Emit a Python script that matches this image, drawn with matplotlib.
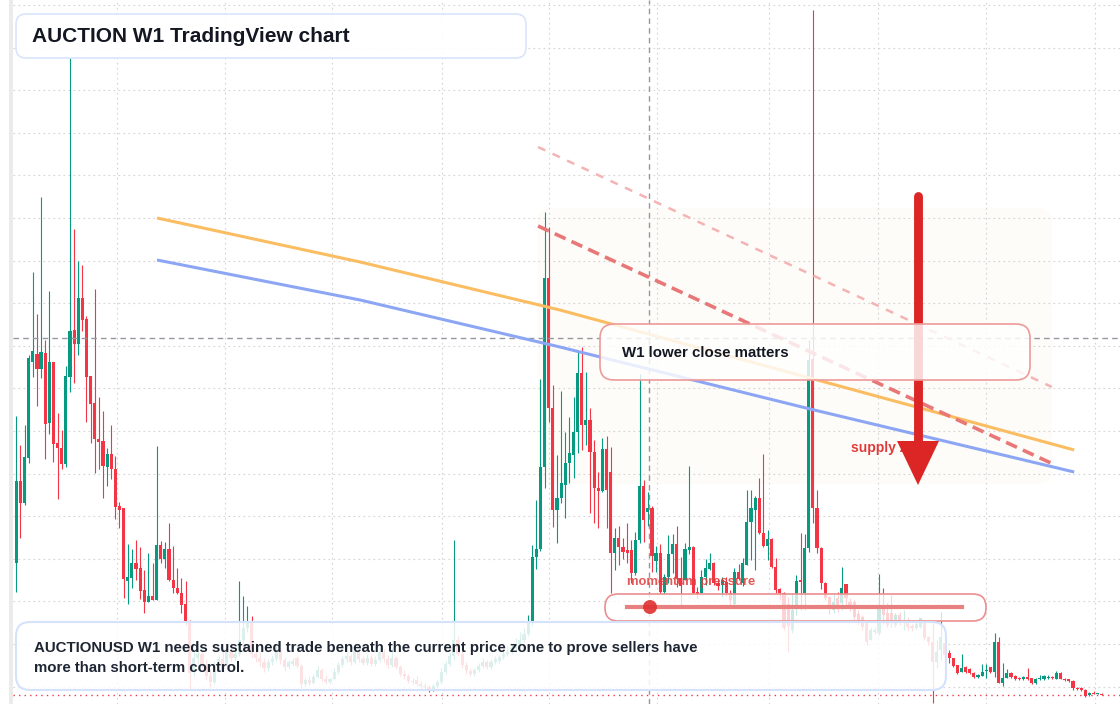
import numpy as np
import matplotlib
matplotlib.use('Agg')
import matplotlib.pyplot as plt
from matplotlib.patches import FancyBboxPatch, Polygon, Circle, Rectangle
from matplotlib.transforms import IdentityTransform
from matplotlib.lines import Line2D
from matplotlib.colors import to_rgba

W, H = 1120, 704

# weekly candles, AUCTIONUSD (price units)
opens = [
    14.1, 22.3, 20.1, 24.6, 34.2, 35.0, 33.5, 35.1, 28.1, 34.2,
    26.1, 25.6, 24.0, 32.7, 37.4, 36.0, 40.6, 38.5, 32.8, 30.1,
    26.5, 26.3, 23.7, 25.0, 23.5, 19.8, 19.6, 12.3, 12.6, 14.1,
    13.6, 11.4, 10.2, 10.8, 10.4, 15.9, 14.5, 15.5, 12.4, 11.6,
    11.1, 10.0, 8.2, 3.3, 4.6, 5.0, 4.0, 2.8, 2.2, 4.0,
    4.5, 4.0, 5.2, 4.6, 5.0, 6.4, 7.6, 8.3, 5.0, 4.6,
    4.2, 3.6, 4.2, 4.5, 5.4, 4.4, 3.7, 4.0, 4.6, 3.8,
    2.0, 2.4, 2.1, 2.7, 3.4, 2.5, 2.2, 2.5, 3.2, 3.9,
    4.5, 4.8, 4.2, 5.3, 4.5, 4.1, 4.6, 4.0, 4.4, 5.2,
    4.5, 3.9, 4.6, 3.7, 3.0, 2.8, 2.3, 2.4, 2.0, 1.8,
    1.7, 1.4, 1.8, 2.2, 3.2, 4.0, 4.8, 6.4, 5.0, 3.9,
    3.3, 3.0, 3.4, 3.8, 4.2, 3.7, 4.2, 4.3, 4.7, 5.0,
    5.2, 5.6, 6.0, 6.4, 7.0, 8.2, 14.7, 15.5, 23.7, 42.6,
    29.6, 19.4, 20.6, 21.9, 24.1, 24.9, 27.2, 33.1, 27.9, 28.4,
    25.2, 21.6, 21.3, 25.5, 23.2, 15.1, 16.6, 15.7, 15.4, 15.4,
    13.1, 16.4, 21.8, 19.2, 19.6, 14.3, 15.1, 11.2, 12.7, 15.0,
    16.0, 12.6, 12.4, 15.4, 15.7, 11.2, 11.1, 12.7, 13.5, 14.1,
    12.1, 11.9, 12.2, 11.1, 10.0, 13.2, 12.1, 13.9, 18.2, 19.4,
    20.6, 17.1, 15.8, 16.5, 13.7, 11.5, 11.1, 10.0, 7.4, 9.6,
    12.4, 11.1, 15.6, 34.5, 19.6, 15.6, 12.1, 10.7, 9.4, 10.6,
    10.1, 12.0, 10.2, 10.2, 9.0, 8.7, 8.1, 6.4, 7.2, 7.1,
    9.9, 9.1, 9.1, 7.9, 8.9, 8.1, 8.2, 7.8, 7.6, 7.7,
    8.1, 6.7, 6.2, 4.2, 5.4, 6.1, 5.1, 4.6, 3.9, 3.2,
    3.7, 3.5, 3.1, 2.7, 2.8, 3.3, 3.7, 3.2, 6.2, 2.1,
    2.6, 3.1, 2.8, 2.6, 2.5, 2.7, 2.6, 2.1, 2.5, 2.5,
    2.6, 2.7, 2.5, 3.1, 2.5, 2.5, 2.3, 1.6, 1.6, 1.4,
    0.9, 1.1, 1.05, 1.05,
]
highs = [
    28.8, 25.9, 27.9, 34.9, 43.2, 39.0, 50.7, 36.4, 41.3, 34.2,
    29.1, 27.4, 33.8, 64.6, 47.5, 44.3, 43.9, 38.8, 32.8, 41.5,
    30.7, 29.3, 25.6, 27.9, 24.8, 20.2, 19.6, 16.0, 15.5, 16.4,
    15.7, 13.4, 15.1, 14.1, 25.8, 16.3, 16.2, 18.1, 15.8, 13.6,
    12.6, 12.3, 8.4, 5.2, 5.6, 5.4, 4.5, 3.5, 4.3, 4.8,
    6.0, 5.4, 5.6, 5.4, 12.3, 10.8, 9.8, 8.8, 6.2, 5.2,
    4.6, 4.5, 4.9, 5.8, 5.6, 4.7, 4.4, 4.6, 4.8, 4.0,
    2.6, 2.8, 3.0, 3.8, 3.6, 2.9, 2.6, 3.6, 4.2, 4.8,
    5.2, 5.0, 5.6, 5.5, 4.8, 5.0, 4.9, 4.8, 5.7, 5.5,
    4.9, 5.6, 4.8, 3.9, 3.4, 3.0, 2.6, 2.8, 2.3, 2.1,
    1.9, 2.0, 2.4, 3.6, 4.3, 5.2, 16.4, 6.8, 5.3, 4.2,
    3.6, 3.6, 4.1, 4.6, 4.4, 4.5, 4.8, 4.9, 5.3, 5.8,
    6.0, 6.6, 7.2, 7.6, 8.9, 15.9, 20.4, 32.5, 49.2, 47.7,
    31.9, 24.9, 31.3, 27.2, 28.7, 30.7, 35.2, 35.7, 33.2, 29.6,
    26.4, 23.2, 26.6, 26.8, 25.7, 17.6, 17.8, 16.6, 18.1, 16.4,
    17.2, 33.0, 22.4, 21.2, 19.8, 15.8, 16.0, 13.0, 16.9, 17.0,
    17.8, 14.7, 16.1, 23.8, 15.8, 11.7, 13.4, 14.5, 15.1, 14.2,
    12.5, 12.7, 12.7, 11.4, 13.6, 14.0, 14.6, 21.4, 21.4, 20.8,
    22.6, 25.0, 17.4, 16.6, 14.6, 11.6, 11.2, 10.7, 11.1, 12.9,
    17.1, 17.0, 36.4, 69.4, 21.4, 15.7, 12.2, 10.8, 11.1, 11.2,
    13.7, 12.0, 10.6, 10.4, 9.4, 8.9, 8.1, 7.6, 7.6, 13.0,
    11.6, 10.1, 10.9, 9.1, 9.2, 9.4, 8.7, 8.0, 8.2, 8.6,
    8.3, 6.8, 8.2, 6.4, 9.2, 6.9, 5.4, 4.6, 3.9, 5.0,
    3.8, 3.6, 3.2, 3.0, 4.0, 4.0, 3.7, 7.1, 6.7, 4.1,
    3.5, 3.2, 2.9, 2.7, 2.8, 3.6, 2.6, 2.6, 2.9, 2.9,
    2.9, 2.8, 3.3, 3.2, 2.6, 2.5, 2.4, 1.7, 1.7, 1.5,
    1.2, 1.3, 1.1, 1.1,
]
lows = [
    11.2, 16.6, 19.9, 24.1, 32.7, 29.8, 32.6, 24.5, 27.0, 24.2,
    20.5, 23.5, 23.7, 31.2, 32.1, 34.9, 37.3, 28.2, 26.1, 23.1,
    23.5, 20.6, 21.8, 22.5, 18.5, 17.6, 10.6, 10.0, 11.6, 12.4,
    10.5, 9.1, 10.2, 10.4, 10.4, 14.1, 13.6, 12.3, 11.1, 11.0,
    9.1, 7.9, 1.4, 2.8, 4.0, 3.6, 2.5, 1.7, 2.0, 3.4,
    3.6, 3.8, 4.3, 4.4, 4.8, 6.0, 7.2, 4.6, 4.2, 3.8,
    3.2, 3.3, 3.9, 4.3, 4.0, 3.3, 3.5, 3.8, 3.6, 1.6,
    1.8, 1.9, 2.0, 2.6, 2.3, 2.0, 2.0, 2.4, 3.0, 3.7,
    4.2, 3.9, 4.0, 4.2, 3.9, 3.9, 3.8, 3.8, 4.2, 4.2,
    3.6, 3.7, 3.5, 2.8, 2.5, 2.1, 2.0, 1.8, 1.6, 1.5,
    1.2, 1.3, 1.6, 2.0, 3.0, 3.8, 4.4, 4.8, 3.6, 3.0,
    2.8, 2.8, 3.2, 3.6, 3.5, 3.5, 4.0, 4.1, 4.5, 4.8,
    5.0, 5.4, 5.8, 6.2, 6.8, 7.8, 13.5, 15.3, 21.6, 28.2,
    17.7, 16.1, 20.1, 18.6, 22.1, 22.6, 25.1, 25.4, 25.9, 19.1,
    18.1, 17.6, 21.2, 17.6, 11.1, 13.4, 13.9, 14.5, 14.1, 12.1,
    12.9, 16.1, 16.2, 17.8, 13.2, 13.2, 11.0, 11.0, 12.1, 13.1,
    11.7, 9.7, 12.4, 15.0, 11.0, 10.6, 11.1, 11.9, 13.4, 11.9,
    11.4, 10.7, 10.8, 9.6, 9.9, 12.4, 11.8, 13.9, 14.4, 13.4,
    17.0, 15.7, 14.4, 13.6, 11.1, 10.5, 7.4, 5.2, 7.1, 8.9,
    9.4, 9.4, 15.2, 18.1, 15.1, 11.5, 10.4, 9.0, 9.1, 9.2,
    9.4, 9.6, 9.3, 8.2, 8.0, 7.4, 5.9, 6.4, 7.0, 6.9,
    8.0, 7.7, 7.7, 7.7, 7.9, 7.4, 7.4, 7.3, 7.5, 7.6,
    6.4, 5.9, 0.1, 3.6, 4.4, 4.6, 4.1, 3.7, 3.0, 3.2,
    3.1, 3.0, 2.6, 2.6, 2.8, 2.6, 3.1, 2.7, 2.1, 1.8,
    2.6, 2.6, 2.4, 2.4, 2.4, 2.4, 2.0, 2.0, 2.4, 2.4,
    2.5, 2.5, 2.5, 2.5, 2.3, 2.2, 1.4, 1.4, 1.3, 0.7,
    0.8, 1.0, 1.0, 0.9,
]
closes = [
    22.3, 20.1, 24.7, 34.6, 35.3, 33.5, 35.2, 28.0, 34.2, 26.0,
    25.6, 24.0, 32.8, 37.3, 36.0, 40.6, 38.4, 32.7, 30.0, 26.5,
    26.2, 23.8, 25.0, 23.5, 19.7, 19.4, 12.5, 12.7, 14.1, 13.5,
    11.3, 10.2, 10.8, 10.4, 15.9, 14.5, 15.5, 12.4, 11.6, 11.1,
    9.9, 8.2, 3.1, 4.6, 5.0, 4.0, 2.8, 2.2, 4.0, 4.5,
    4.0, 5.2, 4.6, 5.0, 6.4, 7.6, 8.3, 5.0, 4.6, 4.2,
    3.6, 4.2, 4.5, 5.4, 4.4, 3.7, 4.2, 4.3, 3.8, 2.0,
    2.4, 2.1, 2.7, 3.4, 2.5, 2.2, 2.5, 3.2, 3.9, 4.5,
    4.8, 4.2, 5.3, 4.5, 4.1, 4.6, 4.0, 4.4, 5.2, 4.5,
    3.9, 4.6, 3.7, 3.0, 2.8, 2.3, 2.2, 2.0, 1.8, 1.7,
    1.4, 1.8, 2.2, 3.2, 4.0, 4.8, 6.4, 5.0, 3.9, 3.3,
    3.0, 3.4, 3.8, 4.2, 3.7, 4.2, 4.5, 4.7, 5.0, 5.2,
    5.6, 6.0, 6.4, 7.0, 8.2, 14.7, 15.5, 23.7, 42.6, 29.6,
    19.4, 20.6, 22.1, 24.1, 25.1, 27.2, 33.1, 27.9, 28.4, 25.2,
    21.6, 21.3, 25.5, 21.4, 15.1, 16.6, 15.7, 15.2, 15.1, 13.1,
    16.4, 21.8, 18.4, 19.6, 14.8, 15.1, 11.2, 12.7, 15.0, 16.0,
    12.6, 11.8, 15.5, 15.7, 11.1, 11.0, 12.7, 13.6, 14.1, 12.1,
    11.8, 12.4, 11.1, 10.4, 13.2, 12.5, 14.1, 18.2, 19.6, 20.6,
    17.1, 15.8, 16.5, 13.7, 11.4, 11.1, 7.6, 7.8, 9.4, 12.3,
    12.2, 15.6, 34.4, 19.6, 15.6, 12.1, 10.6, 9.6, 10.2, 9.6,
    11.6, 10.6, 9.6, 8.7, 8.1, 7.7, 6.2, 7.4, 7.4, 9.9,
    8.9, 7.9, 8.1, 8.9, 8.1, 8.3, 7.7, 7.6, 8.0, 8.6,
    6.6, 6.2, 4.2, 5.2, 6.7, 4.9, 4.6, 3.8, 3.1, 3.6,
    3.2, 3.1, 2.7, 2.9, 3.2, 3.4, 3.2, 6.2, 2.1, 2.6,
    3.1, 2.7, 2.5, 2.5, 2.7, 2.5, 2.1, 2.5, 2.6, 2.8,
    2.7, 2.6, 3.1, 2.5, 2.4, 2.3, 1.6, 1.5, 1.4, 0.8,
    1.1, 1.05, 1.06, 0.9,
]

# moving-average style curves, read at a few bars
ma_x = [34.1, 83.3, 131.7, 192.3, 256.3]
ma_orange = [48.6, 44.2, 39.4, 32.6, 25.4]
ma_blue = [44.4, 40.4, 35.7, 29.5, 23.2]

# descending trend lines (bar, price)
trend_main_x = [126.4, 251.7]
trend_main_y = [47.8, 23.9]
trend_upper_x = [126.4, 250.9]
trend_upper_y = [55.7, 31.7]

last_price = 0.9
cross_bar, cross_price = 153.3, 36.6
vgrid_bars = [24.4, 50.6, 76.5, 103.1, 129.1, 155.2, 182.4, 208.8, 234.9, 261.3]

GREEN = '#089981'
RED = '#f23645'
TXT = '#131722'

o = np.array(opens)
h = np.array(highs)
l = np.array(lows)
c = np.array(closes)
idx = np.arange(len(o))
hi = np.maximum(h, np.maximum(o, c))
lo = np.minimum(l, np.minimum(o, c))
cols = np.where(c >= o, GREEN, RED)

plt.rcParams['font.family'] = ['Liberation Sans', 'DejaVu Sans']

fig = plt.figure(figsize=(11.2, 7.04), dpi=100)
fig.patch.set_facecolor('white')
fig.add_artist(Rectangle((9 / W, 0), 4 / W, 1, transform=fig.transFigure,
                         facecolor='#ebebeb', edgecolor='none'))
ax = fig.add_axes([13 / W, 0, 1 - 13 / W, 1])
ax.set_xlim(-0.8, 267.4)
ax.set_ylim(0, 70.4)
for s in ax.spines.values():
    s.set_visible(False)
ax.set_xticks(vgrid_bars)
ax.set_yticks(np.arange(69.9, 0, -4.26))
ax.tick_params(length=0, labelleft=False, labelbottom=False)
ax.grid(True, color='#d4d4d4', lw=0.8, linestyle=(0, (1.5, 3)))
ax.set_axisbelow(True)

ident = IdentityTransform()


def px(x, y):
    # top-left pixel coords -> display coords
    return (x, H - y)


def rbox(x0, y0, x1, y1, fc, fa, ec, lw, r, z):
    p = FancyBboxPatch(px(x0, y1), x1 - x0, y1 - y0,
                       boxstyle='round,pad=0,rounding_size=%d' % r,
                       transform=ident, facecolor=to_rgba(fc, fa),
                       edgecolor=ec, lw=lw, zorder=z, clip_on=False)
    ax.add_artist(p)


# supply zone shading
rbox(537, 208, 1052, 484, '#fbe8d3', 0.13, 'none', 0, 14, 0.5)

# candles
ax.vlines(idx, lo, hi, colors=cols, lw=0.8, zorder=2)
body = np.maximum(np.abs(c - o), 0.08)
ax.bar(idx, body, bottom=np.minimum(o, c), width=0.76, color=cols, lw=0, zorder=2.1)

# crosshair + last price line
ax.axvline(cross_bar, color='#9598a1', lw=1, linestyle=(0, (4, 3)), zorder=3)
ax.axhline(cross_price, color='#9598a1', lw=1, linestyle=(0, (4, 3)), zorder=3)
ax.axhline(last_price, color=RED, lw=1, linestyle=(0, (1, 3)), zorder=1.8)

# curves
ax.plot(ma_x, ma_orange, color='#fbbd62', lw=2.2, zorder=3, solid_capstyle='butt')
ax.plot(ma_x, ma_blue, color='#8da6f4', lw=2.2, zorder=3, solid_capstyle='butt')
ax.plot(trend_upper_x, trend_upper_y, color='#f4b4b4', lw=1.8,
        linestyle=(0, (3.2, 3.2)), zorder=3)
ax.plot(trend_main_x, trend_main_y, color='#e87878', lw=2.6,
        linestyle=(0, (3.3, 1.8)), zorder=3)

# supply zone label + arrow
ax.text(*px(851, 448), 'supply zone', transform=ident, color='#e03b3b',
        fontsize=10, fontweight='bold', va='center', ha='left', zorder=3.5)
ax.add_line(Line2D([918, 918], [H - 196, H - 445], transform=ident,
                   color='#dc2626', lw=6.4, solid_capstyle='round', zorder=4))
ax.add_patch(Polygon([px(897, 441), px(939, 441), px(918, 485)], closed=True,
                     transform=ident, facecolor='#dc2626', edgecolor='none', zorder=4))

# W1 box
rbox(600, 324, 1030, 380, 'white', 0.82, '#ee9a9a', 1.2, 14, 5)
ax.text(*px(622, 353), 'W1 lower close matters', transform=ident, color=TXT,
        fontsize=10.8, fontweight='bold', va='center', zorder=6)

# momentum pressure gauge
rbox(605, 594, 986, 621, 'white', 0.78, '#ec8f8f', 1.2, 13, 5)
ax.add_line(Line2D([627, 962], [H - 607, H - 607], transform=ident,
                   color='#e88080', lw=3, zorder=6))
ax.add_patch(Circle(px(650, 607), 7, transform=ident, facecolor='#e03131',
                    edgecolor='none', alpha=0.9, zorder=6.5))
ax.text(*px(627, 582), 'momentum pressure', transform=ident, color='#e03b3b',
        fontsize=9.4, fontweight='bold', va='center', alpha=0.85, zorder=6)

# bottom note
rbox(16, 622, 946, 690, 'white', 0.86, '#d4e2fb', 1.5, 14, 5)
ax.text(*px(34, 648), 'AUCTIONUSD W1 needs sustained trade beneath the current price zone to prove sellers have',
        transform=ident, color='#1e2533', fontsize=10.85, fontweight='bold', va='center', zorder=6)
ax.text(*px(34, 668), 'more than short-term control.',
        transform=ident, color='#1e2533', fontsize=10.85, fontweight='bold', va='center', zorder=6)

# title
rbox(16, 14, 526, 58, 'white', 0.93, '#d9e5fb', 1.2, 10, 5)
ax.text(*px(32, 36), 'AUCTION W1 TradingView chart', transform=ident, color=TXT,
        fontsize=15, fontweight='bold', va='center', zorder=6)

fig.savefig('out.png', dpi=100)
